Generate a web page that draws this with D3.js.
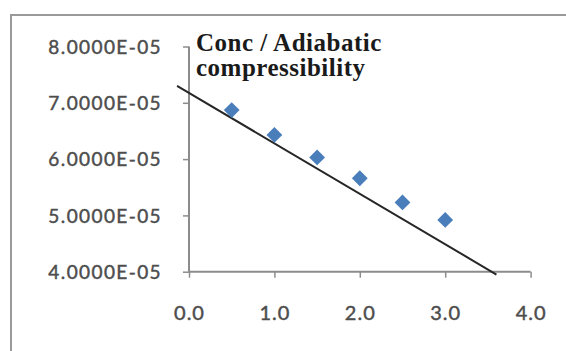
<!DOCTYPE html>
<html>
<head>
<meta charset="utf-8">
<script src="https://cdn.jsdelivr.net/npm/d3@7/dist/d3.min.js"></script>
<style>
  html, body { margin: 0; padding: 0; background: #fff; }
  svg { display: block; }
</style>
</head>
<body>
<svg id="chart" width="566" height="351"></svg>
<script>
// Concentration (x) against conc / adiabatic compressibility (y)
const conc = [0.5, 1.0, 1.5, 2.0, 2.5, 3.0];
const ratio = [6.87e-5, 6.43e-5, 6.03e-5, 5.66e-5, 5.23e-5, 4.92e-5];

// Straight reference line drawn across the plot
const lineX = [-0.14, 3.6];
const lineY = [7.30e-5, 3.95e-5];

const xTicks = [0, 1, 2, 3, 4];
const yTicks = [4e-5, 5e-5, 6e-5, 7e-5, 8e-5];
const titleLines = ["Conc / Adiabatic", "compressibility"];

const svg = d3.select("#chart");

// Outer chart frame (top and left edges in view)
svg.append("path")
  .attr("d", "M11,351 L11,15 L566,15")
  .attr("fill", "none")
  .attr("stroke", "#9a9a9a")
  .attr("stroke-width", 2);

const x = d3.scaleLinear().domain([0, 4]).range([189, 530.6]);
const y = d3.scaleLinear().domain([4e-5, 8e-5]).range([271.7, 46.5]);

// Excel-style scientific format: 8.0000E-05
function sci(v) {
  const [m, e] = v.toExponential(4).split("e");
  const n = parseInt(e, 10);
  const sign = n < 0 ? "-" : "+";
  return m + "E" + sign + String(Math.abs(n)).padStart(2, "0");
}

const axisColor = "#8c8c8c";
const labelColor = "#4d4d4d";

const yAxis = svg.append("g")
  .attr("transform", `translate(${x(0)},0)`)
  .call(d3.axisLeft(y).tickValues(yTicks).tickFormat(sci).tickSize(6).tickPadding(21));
const xAxis = svg.append("g")
  .attr("transform", `translate(0,${y(4e-5)})`)
  .call(d3.axisBottom(x).tickValues(xTicks).tickFormat(d3.format(".1f")).tickSize(6).tickPadding(28));

[yAxis, xAxis].forEach(g => {
  g.select(".domain").attr("stroke", axisColor).attr("stroke-width", 2);
  g.selectAll(".tick line").attr("stroke", axisColor).attr("stroke-width", 1.5);
  g.selectAll(".tick text")
    .attr("fill", labelColor)
    .attr("stroke", labelColor)
    .attr("stroke-width", 0.45)
    .style("font-family", "Lato, 'Open Sans', sans-serif")
    .style("font-size", "19px");
});
yAxis.select(".domain").attr("d", `M0,${y(8e-5)}V${y(4e-5)}`);
xAxis.select(".domain").attr("d", `M${x(0)},0H${x(4)}`);
yAxis.selectAll(".tick text").style("letter-spacing", "1.4px").attr("dy", "0.36em");
xAxis.selectAll(".tick text").style("letter-spacing", "1px").style("font-size", "20px");

// Reference line
svg.append("line")
  .attr("x1", x(lineX[0])).attr("y1", y(lineY[0]))
  .attr("x2", x(lineX[1])).attr("y2", y(lineY[1]))
  .attr("stroke", "#262626")
  .attr("stroke-width", 2);

// Diamond markers
const diamond = d3.symbol().type(d3.symbolSquare).size(125);
svg.append("g").selectAll("path")
  .data(conc.map((c, i) => [c, ratio[i]]))
  .join("path")
  .attr("d", diamond)
  .attr("transform", d => `translate(${x(d[0])},${y(d[1])}) rotate(45)`)
  .attr("fill", "#4a7ebb");

// Title
const title = svg.append("text")
  .attr("x", 196)
  .attr("y", 51)
  .attr("fill", "#1a1a1a")
  .style("font-family", "'Liberation Serif', 'Times New Roman', serif")
  .style("font-weight", "bold")
  .style("font-size", "25px")
  .style("letter-spacing", "0.5px");
title.selectAll("tspan")
  .data(titleLines)
  .join("tspan")
  .attr("x", 196)
  .attr("dy", (d, i) => i === 0 ? 0 : 24.5)
  .text(d => d);
</script>
</body>
</html>
